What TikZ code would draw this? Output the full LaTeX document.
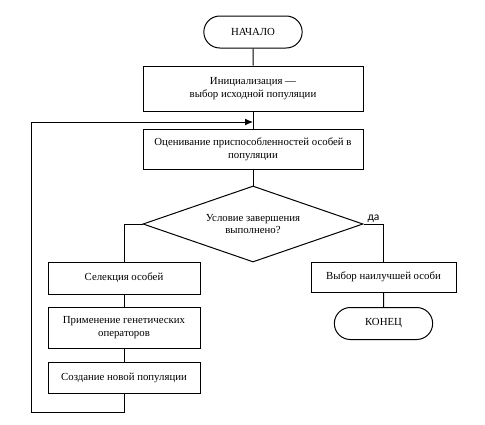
\documentclass[tikz,border=0pt]{standalone}
\usepackage{fontspec}
\setmainfont{Liberation Serif}
\newfontfamily\yesfont{Carlito}
\usetikzlibrary{shapes}
\usetikzlibrary{positioning}
\usetikzlibrary{arrows.meta}

\begin{document}
\begin{tikzpicture}[x=1pt,y=-1pt,
  line width=1pt,
  font=\fontsize{10.8}{12.8}\selectfont,
  term/.style={rounded rectangle,draw,minimum width=105pt,minimum height=32pt},
  wide/.style={rectangle,draw,align=center,minimum width=220pt},
  narrow/.style={rectangle,draw,align=center,minimum width=152pt},
  cond/.style={diamond,draw,align=center,aspect=2.9,minimum width=220pt,minimum height=76pt,inner sep=0pt}]
  \useasboundingbox (0,0) rectangle (485,424);

  \node[term] (start) at (253,32) {НАЧАЛО};
  \node[wide,minimum height=45pt] (init) at (253,88.5) {Инициализация ---\\выбор исходной популяции};
  \node[wide,minimum height=40pt] (eval) at (253,149) {Оценивание приспособленностей особей в\\популяции};
  \node[cond] (check) at (253,224) {Условие завершения\\выполнено?};
  \node[narrow,minimum height=32pt] (select) at (124,278) {Селекция особей};
  \node[narrow,minimum height=41pt] (apply) at (124,327.5) {Применение генетических\\операторов};
  \node[narrow,minimum height=31pt] (create) at (124,377.5) {Создание новой популяции};
  \node[rectangle,draw,minimum width=145pt,minimum height=30pt] (best) at (383.5,277) {Выбор наилучшей особи};
  \node[term] (stop) at (383.5,323.5) {КОНЕЦ};

  \coordinate (join) at (253,122);
  \coordinate (back) at (31,412);

  \draw (start) -- (init);
  \draw (init) -- (eval);
  \draw (eval) -- (check);
  \draw (check.west) -| (select.north);
  \draw (check.east) -| node[above,pos=0.25,font=\yesfont\fontsize{11.5}{13}\selectfont,inner sep=1pt] {да} (best.north);
  \draw (select) -- (apply);
  \draw (apply) -- (create);
  \draw (best) -- (stop);
  \draw[-{Latex[length=8pt,width=7pt]}] (create.south) |- (back) |- (join);

\end{tikzpicture}
\end{document}
